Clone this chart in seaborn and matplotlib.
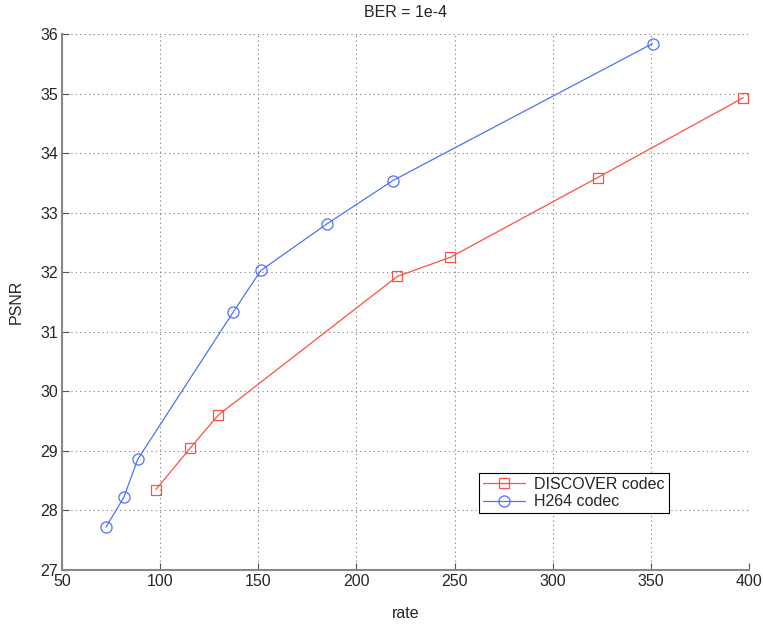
import matplotlib
matplotlib.use("Agg")
import matplotlib.pyplot as plt
import seaborn as sns
import pandas as pd

# Data
discover_rate = [97.8, 115.4, 129.6, 220.8, 247.8, 322.9, 397.1]
discover_psnr = [28.35, 29.05, 29.60, 31.93, 32.25, 33.59, 34.93]
h264_rate = [72.4, 81.5, 88.6, 137.2, 151.3, 184.9, 218.6, 350.9]
h264_psnr = [27.72, 28.22, 28.86, 31.33, 32.03, 32.81, 33.54, 35.84]
series_names = ["DISCOVER codec", "H264 codec"]
x_ticks = [50, 100, 150, 200, 250, 300, 350, 400]
y_ticks = [27, 28, 29, 30, 31, 32, 33, 34, 35, 36]

sns.set_style("white")
plt.rcParams['font.family'] = ['Liberation Sans', 'DejaVu Sans']

fig = plt.figure(figsize=(7.63, 6.26), dpi=100)
ax = fig.add_axes([62/763, 1-570/626, (749-62)/763, (570-34)/626])

red = '#ff5040'
blue = '#5070ff'

df1 = pd.DataFrame({"rate": discover_rate, "psnr": discover_psnr})
df2 = pd.DataFrame({"rate": h264_rate, "psnr": h264_psnr})
sns.lineplot(data=df1, x="rate", y="psnr", ax=ax, color=red, marker='s',
             markerfacecolor='none', markeredgecolor=red, markersize=7,
             markeredgewidth=0.9, linewidth=0.9, sort=False, label=series_names[0])
sns.lineplot(data=df2, x="rate", y="psnr", ax=ax, color=blue, marker='o',
             markerfacecolor='none', markeredgecolor=blue, markersize=8,
             markeredgewidth=0.9, linewidth=0.9, sort=False, label=series_names[1])

ax.set_xlim(50, 400)
ax.set_ylim(27, 36)
ax.set_xticks(x_ticks)
ax.set_yticks(y_ticks)
ax.grid(True, linestyle=(0, (1, 3)), color='#777777', linewidth=0.8)
ax.tick_params(direction='in', length=5, labelsize=11.5, top=False, right=False,
               bottom=True, left=True, color='#555555', pad=3)
for side in ['top', 'right']:
    ax.spines[side].set_visible(False)
for side in ['left', 'bottom']:
    ax.spines[side].set_color('#888888')
    ax.spines[side].set_linewidth(1.5)

ax.set_xlabel("rate", fontsize=11.5, labelpad=12)
ax.set_ylabel("PSNR", fontsize=11.5, labelpad=12)
ax.set_title("BER = 1e-4", fontsize=11.5, pad=12)

leg = ax.legend(loc='upper left', bbox_to_anchor=(479/763, 1-473/626),
                bbox_transform=fig.transFigure, fancybox=False, frameon=True,
                edgecolor='black', fontsize=11.5, handlelength=2.6,
                borderpad=0.25, labelspacing=0.15, handletextpad=0.6,
                borderaxespad=0, framealpha=1)
leg.get_frame().set_linewidth(0.8)

fig.savefig("out.png", dpi=100)
